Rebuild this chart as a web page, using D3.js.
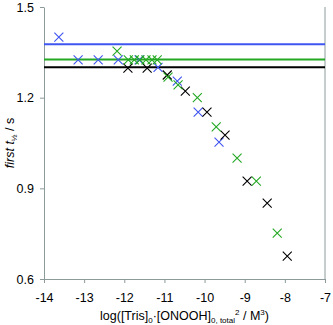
<!DOCTYPE html>
<html>
<head>
<meta charset="utf-8">
<script src="https://cdn.jsdelivr.net/npm/d3@7"></script>
<style>
  body { margin: 0; background: #fff; }
  svg { font-family: "Liberation Sans", Arial, sans-serif; }
  .axis path, .axis line { stroke: #8c9a9a; }
  .axis text { fill: #000; font-size: 12.5px; }
</style>
</head>
<body>
<div id="chart"></div>
<script>
const xTicks = [-14, -13, -12, -11, -10, -9, -8, -7];
const yTicks = [0.6, 0.9, 1.2, 1.5];

const blueX = [-13.63, -13.15, -12.65, -12.15, -11.63, -11.16, -10.68, -10.16, -9.64];
const blueY = [1.40, 1.325, 1.325, 1.325, 1.325, 1.30, 1.255, 1.152, 1.053];

const greenX = [-12.18, -11.90, -11.75, -11.61, -11.46, -11.31, -11.18, -10.91, -10.66, -10.18, -9.71, -9.19, -8.71, -8.19];
const greenY = [1.354, 1.325, 1.325, 1.325, 1.325, 1.325, 1.325, 1.268, 1.242, 1.20, 1.103, 1.0, 0.924, 0.752];

const blackX = [-11.91, -11.43, -10.93, -10.48, -9.94, -9.49, -8.94, -8.44, -7.94];
const blackY = [1.298, 1.298, 1.275, 1.222, 1.152, 1.076, 0.924, 0.851, 0.676];

// horizontal reference levels
const levelNames = ['blue', 'green', 'black'];
const levelValues = [1.377, 1.326, 1.301];

const colors = { blue: '#3f55f0', green: '#22a822', black: '#000000' };

const svg = d3.select('#chart').append('svg').attr('width', 333).attr('height', 325);
const margin = { top: 7, right: 8, bottom: 46, left: 44 };
const width = 333 - margin.left - margin.right;
const height = 325 - margin.top - margin.bottom;
const g = svg.append('g').attr('transform', `translate(${margin.left},${margin.top})`);

const x = d3.scaleLinear().domain([-14, -7]).range([0, width]);
const y = d3.scaleLinear().domain([0.6, 1.5]).range([height, 0]);

g.append('g')
    .attr('class', 'axis')
    .attr('transform', `translate(0,${height})`)
    .call(d3.axisBottom(x).tickValues(xTicks).tickFormat(d => String(d)).tickSize(4).tickSizeOuter(0).tickPadding(10));

g.append('g')
    .attr('class', 'axis')
    .call(d3.axisLeft(y).tickValues(yTicks).tickFormat(d3.format('.1f')).tickSize(4).tickSizeOuter(0).tickPadding(6));

// right border of plot area
g.append('line')
    .attr('x1', width).attr('x2', width)
    .attr('y1', 0).attr('y2', height)
    .style('stroke', '#8c9a9a');

g.selectAll('.level')
    .data(levelValues)
    .enter().append('line')
    .attr('class', 'level')
    .attr('x1', 0).attr('x2', width)
    .attr('y1', d => y(d)).attr('y2', d => y(d))
    .style('stroke', (d, i) => colors[levelNames[i]])
    .style('stroke-width', '2px');

function crosses(xs, ys, color) {
    const pts = xs.map((v, i) => [v, ys[i]]);
    const s = 4.5;
    g.append('g').selectAll('path')
        .data(pts)
        .enter().append('path')
        .attr('d', d => {
            const cx = x(d[0]), cy = y(d[1]);
            return `M${cx - s},${cy - s}L${cx + s},${cy + s}M${cx - s},${cy + s}L${cx + s},${cy - s}`;
        })
        .style('stroke', color)
        .style('stroke-width', '1.1px')
        .style('fill', 'none');
}

crosses(blueX, blueY, colors.blue);
crosses(blackX, blackY, colors.black);
crosses(greenX, greenY, colors.green);

// x axis title
const xt = svg.append('text')
    .attr('x', margin.left + width / 2)
    .attr('y', 320)
    .attr('text-anchor', 'middle')
    .style('font-size', '12.5px');
xt.append('tspan').text('log([Tris]');
xt.append('tspan').attr('dy', 3).style('font-size', '8px').text('0');
xt.append('tspan').attr('dy', -3).text('·[ONOOH]');
xt.append('tspan').attr('dy', 3).style('font-size', '8px').text('0, total');
xt.append('tspan').attr('dy', -8).style('font-size', '8px').text('2');
xt.append('tspan').attr('dy', 5).text(' / M');
xt.append('tspan').attr('dy', -5).style('font-size', '8px').text('3');
xt.append('tspan').attr('dy', 5).text(')');

// y axis title
const yt = svg.append('text')
    .attr('transform', `translate(14,${margin.top + height / 2}) rotate(-90)`)
    .attr('text-anchor', 'middle')
    .style('font-size', '12.5px');
yt.append('tspan').style('font-style', 'italic').text('first t');
yt.append('tspan').attr('dy', 3).style('font-size', '8px').text('½');
yt.append('tspan').attr('dy', -3).text(' / s');
</script>
</body>
</html>
